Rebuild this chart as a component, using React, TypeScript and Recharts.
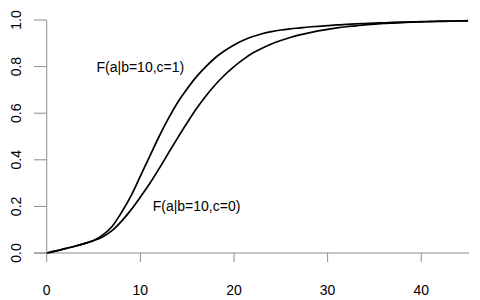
import { Line, LineChart, ReferenceDot, ReferenceLine, XAxis, YAxis } from 'recharts';

// Values, one per unit of a (0..45).
const A_VALUES = Array.from({ length: 46 }, (_, i) => i);
const F_C1 = [
  0, 0.009, 0.019, 0.029, 0.04, 0.054, 0.078, 0.115, 0.175, 0.245,
  0.33, 0.415, 0.5, 0.578, 0.647, 0.705, 0.757, 0.8, 0.838, 0.868,
  0.893, 0.913, 0.929, 0.941, 0.95, 0.957, 0.962, 0.966, 0.97, 0.973,
  0.976, 0.979, 0.981, 0.983, 0.985, 0.987, 0.988, 0.99, 0.991, 0.992,
  0.993, 0.994, 0.995, 0.995, 0.996, 0.996,
];
const F_C0 = [
  0, 0.009, 0.019, 0.029, 0.04, 0.053, 0.07, 0.097, 0.137, 0.185,
  0.24, 0.298, 0.362, 0.429, 0.495, 0.559, 0.62, 0.674, 0.722, 0.764,
  0.8, 0.831, 0.858, 0.879, 0.897, 0.912, 0.925, 0.936, 0.945, 0.953,
  0.96, 0.966, 0.971, 0.975, 0.979, 0.982, 0.985, 0.987, 0.989, 0.991,
  0.992, 0.993, 0.994, 0.995, 0.996, 0.997,
];
const X_TICKS = [0, 10, 20, 30, 40];
const Y_TICKS = [0, 0.2, 0.4, 0.6, 0.8, 1];
const LABEL_C1 = { a: 10, f: 0.8, text: 'F(a|b=10,c=1)' };
const LABEL_C0 = { a: 16, f: 0.2, text: 'F(a|b=10,c=0)' };

const data = A_VALUES.map((a, i) => ({ a, c1: F_C1[i], c0: F_C0[i] }));

const FONT = '"Liberation Sans", Arial, sans-serif';
const FS = 14;
const AXIS = '#8c8c8c';
const AXIS_W = 1;
const PLOT_LEFT = 34;
const Y_TICK_LEN = 12.7;

// R-style y ticks: drawn inward from the plot edge up to the a=0 line, label rotated.
function YTick({ y, payload }: any) {
  return (
    <g>
      <path d={`M${PLOT_LEFT},${y}h${Y_TICK_LEN}`} stroke={AXIS} strokeWidth={AXIS_W} fill="none" />
      <text
        transform={`translate(16,${y}) rotate(-90)`}
        textAnchor="middle"
        dominantBaseline="central"
        fontSize={FS}
        fontFamily={FONT}
        fill="#000"
      >
        {Number(payload.value).toFixed(1)}
      </text>
    </g>
  );
}

function XTick({ x, payload }: any) {
  return (
    <g>
      <path d={`M${x},253v9`} stroke={AXIS} strokeWidth={AXIS_W} fill="none" />
      <text x={x} y={290} textAnchor="middle" dominantBaseline="central" fontSize={FS} fontFamily={FONT} fill="#000">
        {payload.value}
      </text>
    </g>
  );
}

export default function App() {
  return (
    <div style={{ position: 'fixed', left: 0, top: 0, width: 480, height: 300, background: '#fff' }}>
      <LineChart width={480} height={300} data={data} margin={{ top: 20, right: 11, bottom: 0, left: 0 }}>
        <XAxis
          dataKey="a"
          type="number"
          domain={[-1.36, 45.1]}
          ticks={X_TICKS}
          axisLine={false}
          tickLine={false}
          height={47}
          tick={<XTick />}
          allowDataOverflow
        />
        <YAxis
          type="number"
          domain={[0, 1]}
          ticks={Y_TICKS}
          width={PLOT_LEFT}
          axisLine={false}
          tickLine={false}
          tick={<YTick />}
        />
        <ReferenceLine y={0} stroke={AXIS} strokeWidth={AXIS_W} />
        <ReferenceLine segment={[{ x: 0, y: 0 }, { x: 0, y: 1 }]} stroke={AXIS} strokeWidth={AXIS_W} />
        <Line type="monotone" dataKey="c1" stroke="#000" strokeWidth={1.7} dot={false} isAnimationActive={false} />
        <Line type="monotone" dataKey="c0" stroke="#000" strokeWidth={1.7} dot={false} isAnimationActive={false} />
        <ReferenceDot
          x={LABEL_C1.a}
          y={LABEL_C1.f}
          r={0}
          stroke="none"
          label={{ value: LABEL_C1.text, position: 'center', fontSize: FS, fontFamily: FONT, fill: '#000' }}
        />
        <ReferenceDot
          x={LABEL_C0.a}
          y={LABEL_C0.f}
          r={0}
          stroke="none"
          label={{ value: LABEL_C0.text, position: 'center', fontSize: FS, fontFamily: FONT, fill: '#000' }}
        />
      </LineChart>
    </div>
  );
}
